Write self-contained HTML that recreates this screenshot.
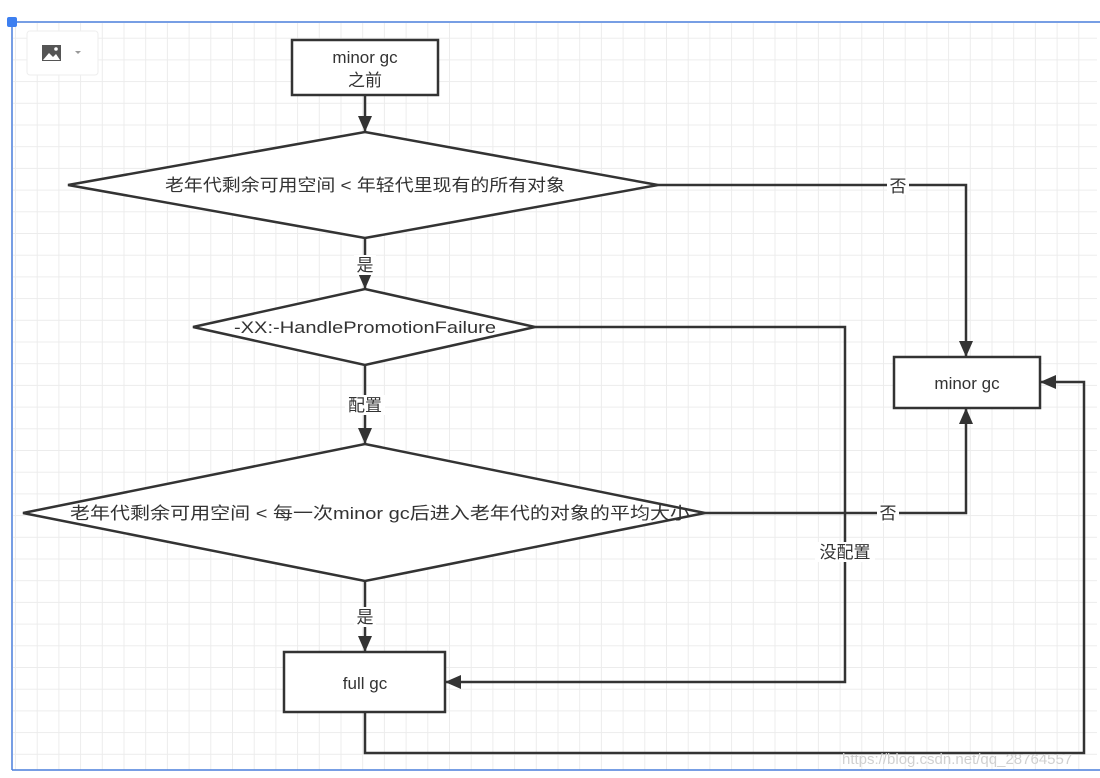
<!DOCTYPE html>
<html><head><meta charset="utf-8"><style>
html,body{margin:0;padding:0;background:#fff;}
svg{display:block;}
text{font-family:"Liberation Sans","Noto Sans CJK SC",sans-serif;fill:#333;}
</style></head><body>
<svg width="1100" height="778" viewBox="0 0 1100 778" xmlns="http://www.w3.org/2000/svg">
<defs>
<pattern id="g" width="21.7" height="21.7" patternUnits="userSpaceOnUse" patternTransform="translate(15,16)">
<path d="M0 0.5H21.7M0.5 0V21.7" stroke="#ececec" stroke-width="1" fill="none"/>
</pattern>
<marker id="a" markerWidth="16" markerHeight="16" refX="15" refY="8" orient="auto" markerUnits="userSpaceOnUse" viewBox="0 0 16 16">
<path d="M0 1L16 8L0 15z" fill="#333"/>
</marker>
</defs>
<rect x="0" y="0" width="1100" height="778" fill="#fff"/>
<rect x="13" y="23" width="1084" height="747" fill="url(#g)"/>
<line x1="12" y1="22" x2="1100" y2="22" stroke="#4a7fdc" stroke-width="1.5"/>
<line x1="12" y1="22" x2="12" y2="770" stroke="#4a7fdc" stroke-width="1.5"/>
<line x1="12" y1="770" x2="1100" y2="770" stroke="#4a7fdc" stroke-width="1.5"/>
<rect x="7" y="17" width="10" height="10" rx="2" fill="#3d7ff0"/>
<rect x="27" y="31" width="71" height="44" rx="3" fill="#fff" stroke="#eee"/>
<rect x="42" y="45" width="19" height="16" fill="#555"/>
<path d="M43 60L49 53L53 57L56 54L60 60z" fill="#fff"/>
<circle cx="56" cy="49" r="1.8" fill="#fff"/>
<path d="M75 51L81 51L78 54z" fill="#999"/>

<g stroke="#333" stroke-width="2.5" fill="#fff">
<rect x="292" y="40" width="146" height="55"/>
<polygon points="68,185 365,132 658,185 365,238"/>
<polygon points="193,327 365,289 535,327 365,365"/>
<polygon points="23,513 365,444 705,513 365,581"/>
<rect x="894" y="357" width="146" height="51"/>
<rect x="284" y="652" width="161" height="60"/>
</g>
<g stroke="#333" stroke-width="2.5" fill="none" marker-end="url(#a)">
<path d="M365 95V131"/>
<path d="M658 185H966V356"/>
<path d="M365 238V288"/>
<path d="M535 327H845V682H446"/>
<path d="M365 365V443"/>
<path d="M705 513H966V409"/>
<path d="M365 581V651"/>
<path d="M365 712V753H1084V382H1041"/>
</g>
<g font-size="17" text-anchor="middle">
<text x="365" y="63">minor gc</text>
<text x="365" y="86">之前</text>
<text x="365" y="191" textLength="400" lengthAdjust="spacingAndGlyphs">老年代剩余可用空间 &lt; 年轻代里现有的所有对象</text>
<text x="365" y="333" textLength="262" lengthAdjust="spacingAndGlyphs">-XX:-HandlePromotionFailure</text>
<text x="380" y="519" textLength="620" lengthAdjust="spacingAndGlyphs">老年代剩余可用空间 &lt; 每一次minor gc后进入老年代的对象的平均大小</text>
<text x="967" y="389">minor gc</text>
<text x="365" y="689">full gc</text>
</g>
<g font-size="17" text-anchor="middle">
<rect x="887" y="175" width="22" height="20" fill="#fff"/>
<text x="898" y="192">否</text>
<rect x="354" y="255" width="22" height="20" fill="#fff"/>
<text x="365" y="271">是</text>
<rect x="345" y="395" width="40" height="20" fill="#fff"/>
<text x="365" y="411">配置</text>
<rect x="877" y="503" width="22" height="20" fill="#fff"/>
<text x="888" y="519">否</text>
<rect x="815" y="542" width="60" height="20" fill="#fff"/>
<text x="845" y="558">没配置</text>
<rect x="354" y="607" width="22" height="20" fill="#fff"/>
<text x="365" y="623">是</text>
</g>
<text x="842" y="764" font-size="15" style="fill:#d0d0d0">https://blog.csdn.net/qq_28764557</text>
</svg>
</body></html>
